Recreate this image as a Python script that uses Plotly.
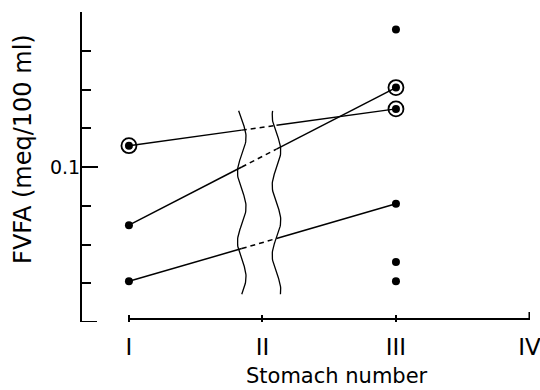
import numpy as np
import plotly.graph_objects as go

# ---- data ----
stomach_ticks = [1, 2, 3, 4]
stomach_labels = ["I", "II", "III", "IV"]
y_ticks = [0.02, 0.04, 0.06, 0.08, 0.10, 0.12, 0.14, 0.16, 0.18]
y_tick_labels = ["", "", "", "", "0.1", "", "", "", ""]

# paired samples (stomach I -> stomach III)
series_I = [0.111, 0.070, 0.041]
series_III = [0.130, 0.141, 0.081]
circled = [True, False, False]      # circled marker at I
circled_III = [True, True, False]   # circled marker at III
# unpaired samples at stomach III
single_III = [0.171, 0.051, 0.041]

BREAK1, BREAK2 = 1.845, 2.105   # x positions of the axis-break wavy lines
FONT = "DejaVu Sans"

fig = go.Figure()

def yat(y1, y3, x):
    return y1 + (y3 - y1) * (x - 1) / 2.0

for y1, y3 in zip(series_I, series_III):
    b1 = yat(y1, y3, BREAK1)
    b2 = yat(y1, y3, BREAK2)
    fig.add_trace(go.Scatter(x=[1, BREAK1], y=[y1, b1], mode="lines",
                             line=dict(color="black", width=1.5), hoverinfo="skip"))
    fig.add_trace(go.Scatter(x=[BREAK1, BREAK2], y=[b1, b2], mode="lines",
                             line=dict(color="black", width=1.5, dash="5px,4px"), hoverinfo="skip"))
    fig.add_trace(go.Scatter(x=[BREAK2, 3], y=[b2, y3], mode="lines",
                             line=dict(color="black", width=1.5), hoverinfo="skip"))

# wavy break lines (decoration)
ys = np.linspace(0.0343, 0.129, 120)
for xc, ph in [(BREAK1, 0.0), (BREAK2, 1.2)]:
    xs = xc + 0.032 * np.sin(2 * np.pi * (ys - 0.0343) / 0.036 + ph)
    fig.add_trace(go.Scatter(x=xs, y=ys, mode="lines",
                             line=dict(color="black", width=1.3), hoverinfo="skip"))

# points
xs_pts = [1] * len(series_I) + [3] * len(series_III) + [3] * len(single_III)
ys_pts = series_I + series_III + single_III
fig.add_trace(go.Scatter(x=xs_pts, y=ys_pts, mode="markers",
                         marker=dict(color="black", size=8), hoverinfo="skip"))
ring_x = [1 for c in circled if c] + [3 for c in circled_III if c]
ring_y = [y for y, c in zip(series_I, circled) if c] + [y for y, c in zip(series_III, circled_III) if c]
fig.add_trace(go.Scatter(x=ring_x, y=ring_y, mode="markers",
                         marker=dict(symbol="circle-open", color="black", size=15,
                                     line=dict(width=1.8, color="black")),
                         hoverinfo="skip"))

shapes = [
    # x axis line (detached from y axis)
    dict(type="line", xref="x", yref="paper", ysizemode="pixel", yanchor=0,
         x0=1, x1=4, y0=3, y1=3, line=dict(color="black", width=2)),
    # end tick at IV
    dict(type="line", xref="x", yref="paper", ysizemode="pixel", yanchor=0,
         x0=4, x1=4, y0=2, y1=10, line=dict(color="black", width=2)),
    # longer tick at 0.1
    dict(type="line", xref="paper", yref="y", xsizemode="pixel", xanchor=0,
         x0=0, x1=16, y0=0.10, y1=0.10, line=dict(color="black", width=2)),
    # bottom corner tick
    dict(type="line", xref="paper", yref="y", xsizemode="pixel", xanchor=0,
         x0=0, x1=15, y0=0.02, y1=0.02, line=dict(color="black", width=2)),
]

annotations = [
    dict(text="FVFA (meq/100 ml)", xref="paper", yref="paper",
         x=-0.132, y=0.558, xanchor="center", yanchor="middle",
         showarrow=False, textangle=-90,
         font=dict(family=FONT, size=24, color="black")),
    dict(text="Stomach number", xref="paper", yref="paper",
         x=0.569, y=-0.174, xanchor="center", yanchor="middle",
         showarrow=False, borderpad=0,
         font=dict(family=FONT, size=21, color="black")),
]

fig.update_layout(
    width=540, height=390,
    margin=dict(l=82, r=10, t=12, b=68),
    paper_bgcolor="white", plot_bgcolor="white",
    showlegend=False,
    shapes=shapes, annotations=annotations,
    xaxis=dict(range=[0.6484, 4.004], tickvals=stomach_ticks, ticktext=stomach_labels,
               ticks="inside", ticklen=7, tickwidth=2, tickcolor="black",
               showline=False, showgrid=False, zeroline=False, automargin=False,
               tickfont=dict(family=FONT, size=23, color="black"),
               ticklabeloverflow="allow", ticklabelstandoff=9),
    yaxis=dict(range=[0.02, 0.18], tickvals=y_ticks, ticktext=y_tick_labels,
               ticks="inside", ticklen=9, tickwidth=2, tickcolor="black",
               showline=True, linecolor="black", linewidth=2, automargin=False,
               showgrid=False, zeroline=False,
               tickfont=dict(family=FONT, size=19, color="black"),
               ticklabelstandoff=-4),
)

fig.write_html("out.html", config={"displayModeBar": False},
               post_script="document.body.style.margin='0';")
